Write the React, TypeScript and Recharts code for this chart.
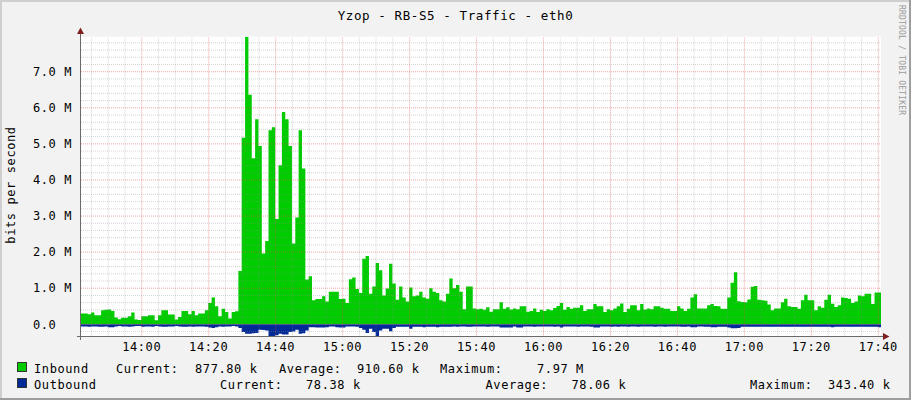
import { AreaChart, Area, XAxis, YAxis, CartesianGrid, ReferenceLine } from 'recharts';

// minutes after 13:00 at the left / right edge of the plot
const START_MIN = 41.87;
const END_MIN = 280.8;

// inbound traffic, M bits/s, one value per minute
const inbound = [
  0.30, 0.30, 0.28, 0.33, 0.25, 0.25, 0.39, 0.40, 0.41, 0.37,
  0.19, 0.14, 0.18, 0.18, 0.22, 0.33, 0.13, 0.12, 0.22, 0.22,
  0.25, 0.25, 0.11, 0.25, 0.39, 0.39, 0.27, 0.27, 0.13, 0.20,
  0.37, 0.37, 0.28, 0.37, 0.25, 0.30, 0.30, 0.39, 0.59, 0.74,
  0.50, 0.22, 0.43, 0.34, 0.16, 0.34, 0.36, 1.48, 5.17, 7.97,
  6.36, 4.60, 5.68, 4.94, 1.96, 2.31, 5.38, 5.46, 2.92, 4.41,
  5.88, 5.68, 4.94, 2.24, 2.96, 5.38, 4.32, 1.24, 1.33, 0.67,
  0.70, 0.70, 0.78, 0.63, 0.90, 0.90, 0.90, 0.70, 0.71, 0.59,
  1.25, 1.30, 0.98, 0.87, 1.82, 1.89, 0.85, 1.05, 1.70, 1.50,
  0.80, 0.99, 1.68, 1.13, 0.68, 1.05, 0.74, 0.63, 1.02, 0.78,
  0.80, 0.90, 0.74, 0.71, 1.00, 0.90, 0.87, 0.67, 0.63, 0.85,
  1.27, 1.00, 1.09, 0.90, 0.42, 1.05, 1.05, 0.44, 0.42, 0.43,
  0.40, 0.47, 0.35, 0.42, 0.42, 0.61, 0.43, 0.47, 0.41, 0.44,
  0.42, 0.50, 0.50, 0.35, 0.37, 0.44, 0.34, 0.40, 0.37, 0.42,
  0.39, 0.45, 0.51, 0.59, 0.40, 0.48, 0.43, 0.46, 0.46, 0.53,
  0.37, 0.42, 0.42, 0.56, 0.50, 0.50, 0.34, 0.42, 0.39, 0.44,
  0.50, 0.58, 0.34, 0.43, 0.53, 0.53, 0.39, 0.56, 0.41, 0.44,
  0.42, 0.50, 0.50, 0.46, 0.43, 0.43, 0.37, 0.37, 0.50, 0.44,
  0.37, 0.43, 0.74, 0.83, 0.44, 0.44, 0.44, 0.53, 0.56, 0.51,
  0.50, 0.43, 0.43, 0.74, 1.15, 1.44, 0.64, 0.62, 0.61, 0.69,
  1.04, 1.06, 0.68, 0.67, 0.65, 0.55, 0.39, 0.44, 0.44, 0.61,
  0.71, 0.50, 0.48, 0.48, 0.43, 0.67, 0.82, 0.67, 0.67, 0.39,
  0.50, 0.46, 0.68, 0.82, 0.57, 0.48, 0.53, 0.74, 0.73, 0.71,
  0.59, 0.63, 0.80, 0.78, 0.85, 0.85, 0.56, 0.88, 0.878,
];

// outbound traffic, M bits/s (drawn below zero)
const outbound = [
  0.06, 0.06, 0.07, 0.06, 0.06, 0.07, 0.07, 0.06, 0.08, 0.08,
  0.06, 0.05, 0.06, 0.06, 0.07, 0.06, 0.05, 0.05, 0.07, 0.06,
  0.06, 0.07, 0.05, 0.06, 0.07, 0.07, 0.06, 0.06, 0.05, 0.06,
  0.07, 0.07, 0.06, 0.07, 0.06, 0.06, 0.06, 0.07, 0.09, 0.10,
  0.08, 0.06, 0.07, 0.06, 0.06, 0.05, 0.06, 0.10, 0.21, 0.26,
  0.26, 0.25, 0.24, 0.15, 0.16, 0.17, 0.33, 0.3434, 0.30, 0.26,
  0.28, 0.28, 0.21, 0.20, 0.15, 0.26, 0.25, 0.17, 0.08, 0.08,
  0.09, 0.09, 0.09, 0.08, 0.06, 0.06, 0.08, 0.09, 0.09, 0.06,
  0.06, 0.06, 0.07, 0.10, 0.15, 0.24, 0.12, 0.21, 0.33, 0.17,
  0.12, 0.12, 0.19, 0.10, 0.07, 0.07, 0.07, 0.07, 0.12, 0.07,
  0.07, 0.07, 0.08, 0.07, 0.07, 0.07, 0.08, 0.07, 0.07, 0.07,
  0.07, 0.06, 0.07, 0.06, 0.06, 0.07, 0.07, 0.06, 0.06, 0.06,
  0.06, 0.07, 0.06, 0.06, 0.06, 0.09, 0.09, 0.09, 0.09, 0.06,
  0.09, 0.09, 0.06, 0.06, 0.06, 0.07, 0.06, 0.06, 0.06, 0.06,
  0.06, 0.07, 0.06, 0.09, 0.06, 0.06, 0.06, 0.06, 0.07, 0.06,
  0.06, 0.06, 0.07, 0.09, 0.09, 0.06, 0.06, 0.06, 0.07, 0.06,
  0.07, 0.06, 0.06, 0.07, 0.06, 0.06, 0.07, 0.06, 0.06, 0.06,
  0.06, 0.07, 0.06, 0.06, 0.07, 0.06, 0.06, 0.06, 0.06, 0.07,
  0.07, 0.06, 0.08, 0.08, 0.06, 0.06, 0.07, 0.07, 0.08, 0.08,
  0.07, 0.07, 0.07, 0.09, 0.11, 0.11, 0.10, 0.07, 0.07, 0.07,
  0.07, 0.07, 0.07, 0.07, 0.07, 0.07, 0.07, 0.07, 0.07, 0.07,
  0.07, 0.07, 0.07, 0.07, 0.07, 0.07, 0.07, 0.07, 0.07, 0.07,
  0.07, 0.07, 0.07, 0.07, 0.08, 0.07, 0.07, 0.07, 0.07, 0.07,
  0.07, 0.07, 0.07, 0.07, 0.07, 0.07, 0.07, 0.07, 0.0784,
];

const timeTicks = [60, 80, 100, 120, 140, 160, 180, 200, 220, 240, 260, 280];
const timeLabels = ['14:00', '14:20', '14:40', '15:00', '15:20', '15:40', '16:00', '16:20', '16:40', '17:00', '17:20', '17:40'];
const valueTicks = [0, 1, 2, 3, 4, 5, 6, 7];
const valueLabels = ['0.0\u00a0\u00a0', '1.0 M', '2.0 M', '3.0 M', '4.0 M', '5.0 M', '6.0 M', '7.0 M'];

const inboundStats = ['877.80 k', '910.60 k', '7.97 M'];
const outboundStats = ['78.38 k', '78.06 k', '343.40 k'];
const statNames = ['Current:', 'Average:', 'Maximum:'];

const GREEN = '#00cc00';
const BLUE = '#002a97';

const data = inbound.map((v, i) => ({ t: START_MIN + i, inb: v, out: -outbound[i] }));
// close the last step
data.push({ t: START_MIN + inbound.length, inb: inbound[inbound.length - 1], out: -outbound[outbound.length - 1] });

// grid every 5 min / 0.2 M, major every 20 min / 1 M
const minorTimes: number[] = [];
for (let m = 45; m <= 280; m += 5) if (m % 20 !== 0) minorTimes.push(m);
const minorValues: number[] = [];
for (let k = -1; k < 40; k++) if (k % 5 !== 0) minorValues.push(+(k * 0.2).toFixed(1));

const FONT = { fontFamily: '"DejaVu Sans Mono", monospace', fontSize: 12, letterSpacing: 0.6 };

const TimeTick = ({ x, y, payload }: any) => (
  <text x={x} y={y} dy="0.35em" textAnchor="middle" fill="#000" style={FONT}>
    {timeLabels[timeTicks.indexOf(payload.value)]}
  </text>
);

const ValueTick = ({ x, y, payload }: any) => (
  <text x={x} y={y} dy="0.35em" textAnchor="end" fill="#000" style={FONT}>
    {valueLabels[valueTicks.indexOf(payload.value)]}
  </text>
);

const minorGrid = { stroke: '#8f8f8f', strokeOpacity: 0.38, strokeDasharray: '1 1' };
const majorGrid = { stroke: '#de4f4f', strokeOpacity: 0.5, strokeDasharray: '1 1' };

export default function App() {
  return (
    <div style={{ position: 'relative', width: 911, height: 400, background: '#f2f2f2' }}>
      <style>{`body{margin:0}`}</style>
      <AreaChart width={911} height={400} data={data} margin={{ top: 36.7, right: 30, bottom: 36.3, left: 11 }}>
        <CartesianGrid fill="#fff" horizontal={false} vertical={false} />
        <XAxis
          dataKey="t"
          type="number"
          domain={[START_MIN, END_MIN]}
          allowDataOverflow
          ticks={timeTicks}
          interval={0}
          tick={<TimeTick />}
          tickSize={0}
          tickMargin={10}
          axisLine={false}
          tickLine={false}
          height={27}
        />
        <YAxis
          type="number"
          domain={[-0.3434, 7.97]}
          allowDataOverflow
          ticks={valueTicks}
          interval={0}
          tick={<ValueTick />}
          tickSize={0}
          tickMargin={9}
          axisLine={false}
          tickLine={false}
          width={70}
        />
        <Area type="stepAfter" dataKey="inb" stroke="none" fill={GREEN} fillOpacity={1} baseValue={0} isAnimationActive={false} dot={false} activeDot={false} />
        <Area type="stepAfter" dataKey="out" stroke="none" fill={BLUE} fillOpacity={1} baseValue={0} isAnimationActive={false} dot={false} activeDot={false} />
        {minorValues.map((v) => <ReferenceLine key={`hm${v}`} y={v} {...minorGrid} />)}
        {minorTimes.map((m) => <ReferenceLine key={`vm${m}`} x={m} {...minorGrid} />)}
        {valueTicks.map((v) => <ReferenceLine key={`hM${v}`} y={v} {...majorGrid} />)}
        {timeTicks.map((m) => <ReferenceLine key={`vM${m}`} x={m} {...majorGrid} />)}
      </AreaChart>

      <svg width={911} height={400} style={{ position: 'absolute', left: 0, top: 0, pointerEvents: 'none' }}>
        {/* frame */}
        <rect x={0} y={0} width={911} height={2} fill="#cfcfcf" />
        <rect x={0} y={0} width={2} height={400} fill="#cfcfcf" />
        <rect x={909} y={0} width={2} height={400} fill="#9e9e9e" />
        <rect x={0} y={398} width={911} height={2} fill="#9e9e9e" />

        <text x={455.5} y={19.5} textAnchor="middle" style={{ ...FONT, fontSize: 12.5 }}>Yzop - RB-S5 - Traffic - eth0</text>
        <text x={15} y={185} textAnchor="middle" transform="rotate(-90 15 185)" style={FONT}>bits per second</text>
        <text x={899} y={5} transform="rotate(90 899 5)" fill="#9a9a9a" style={{ ...FONT, fontSize: 8, letterSpacing: 0.2 }}>RRDTOOL / TOBI OETIKER</text>

        {/* axes */}
        <line x1={80.5} y1={340} x2={80.5} y2={32} stroke="#6a6a6a" strokeWidth={1} />
        <polygon points="77,34 84,34 80.5,27.5" fill="#801f1f" />
        <line x1={77} y1={336.5} x2={884} y2={336.5} stroke="#6a6a6a" strokeWidth={1} />
        <polygon points="883,333 883,340 889.5,336.5" fill="#801f1f" />

        {/* legend */}
        <rect x={17.5} y={362.5} width={9} height={9} fill={GREEN} stroke="#333" />
        <text x={34} y={372.5} style={FONT}>Inbound</text>
        {[116, 279, 440].map((x, i) => <text key={`l1${i}`} x={x} y={372.5} style={FONT}>{statNames[i]}</text>)}
        {[195, 357, 537].map((x, i) => <text key={`v1${i}`} x={x} y={372.5} style={FONT}>{inboundStats[i]}</text>)}

        <rect x={17.5} y={378.5} width={9} height={9} fill={BLUE} stroke="#333" />
        <text x={34} y={388.5} style={FONT}>Outbound</text>
        {[220, 485.5, 750].map((x, i) => <text key={`l2${i}`} x={x} y={388.5} style={FONT}>{statNames[i]}</text>)}
        {[306, 571.5, 828].map((x, i) => <text key={`v2${i}`} x={x} y={388.5} style={FONT}>{outboundStats[i]}</text>)}
      </svg>
    </div>
  );
}
